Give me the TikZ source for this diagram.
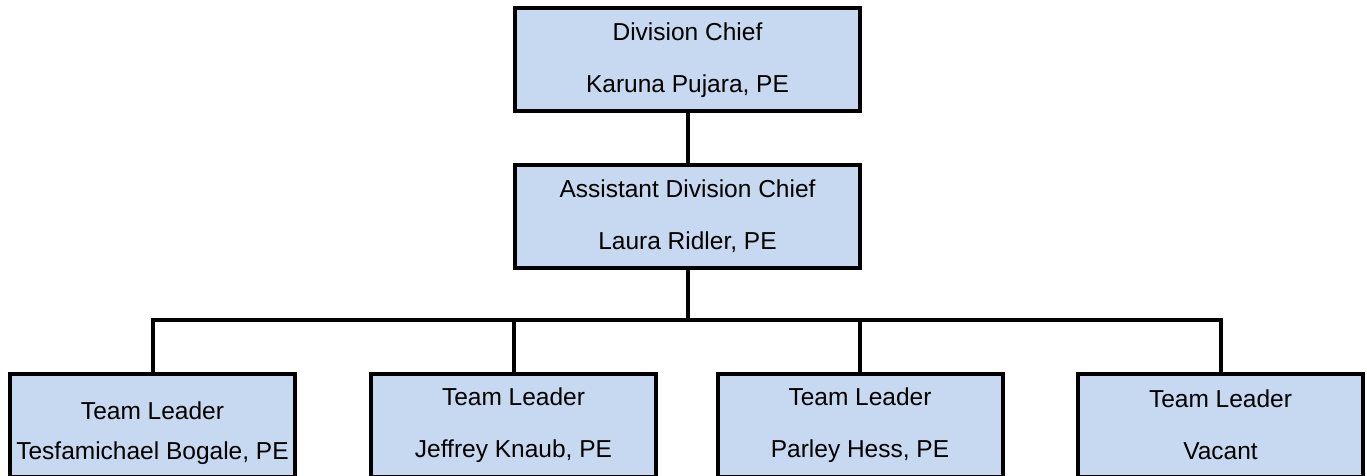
\documentclass[tikz,border=0pt]{standalone}
\usepackage{fontspec}
\setmainfont{Liberation Sans}
\usepackage{tikz}
\definecolor{boxblue}{RGB}{198,217,241}

\begin{document}
\begin{tikzpicture}[x=1pt, y=-1pt,
    post/.style={draw, line width=4pt, fill=boxblue, minimum width=285pt, minimum height=103pt,
      inner sep=0pt, align=center, font=\fontsize{24.5}{29.4}\selectfont},
    link/.style={line width=4pt}]
  \useasboundingbox (0,0) rectangle (1367,476);
  \clip (0,0) rectangle (1367,476);

  \node[post, minimum width=345pt] (chief) at (687.5,60) {Division Chief\\[22.6pt]Karuna Pujara, PE};
  \node[post, minimum width=345pt] (assist) at (687.5,216.5) {Assistant Division Chief\\[22.6pt]Laura Ridler, PE};

  \node[post] (lead1) at (152.5,425) {\rule{0pt}{35pt}Team Leader\\[10.6pt]Tesfamichael Bogale, PE};
  \node[post] (lead2) at (513.5,425) {Team Leader\\[22.6pt]Jeffrey Knaub, PE};
  \node[post] (lead3) at (860,425) {Team Leader\\[22.6pt]Parley Hess, PE};
  \node[post] (lead4) at (1220.5,425) {Team Leader\\[22.6pt]Vacant};

  \coordinate (bus) at (687.5,320);

  \draw[link] (chief) -- (assist);
  \draw[link] (assist) -- (bus);
  \draw[link] (lead1.north) -- (lead1.north |- bus) -- (lead4.north |- bus) -- (lead4.north);
  \draw[link] (lead2.north) -- (lead2.north |- bus);
  \draw[link] (lead3.north) -- (lead3.north |- bus);
\end{tikzpicture}
\end{document}
